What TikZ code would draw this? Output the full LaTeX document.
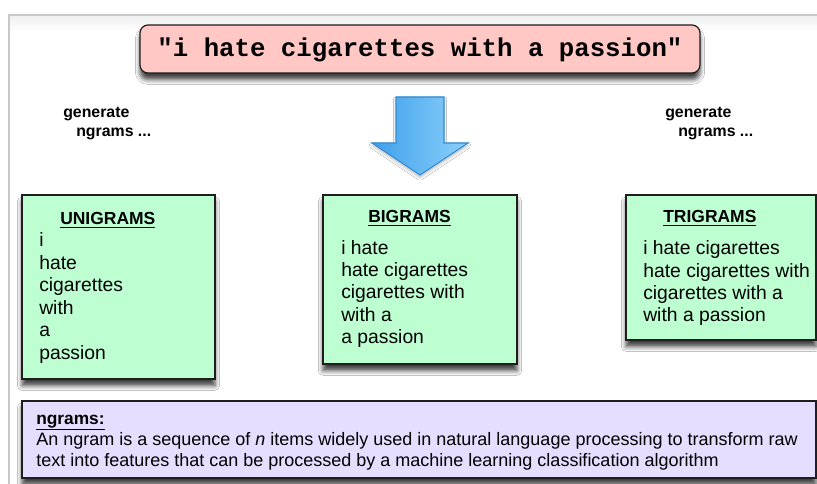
\documentclass[tikz,border=0pt]{standalone}
\usepackage{fontspec}
\setmainfont{Liberation Sans}
\setmonofont{Liberation Mono}
\usetikzlibrary{fit,shadows.blur}
\definecolor{pinkfill}{RGB}{255,200,196}
\definecolor{greenfill}{RGB}{190,255,210}
\definecolor{lavfill}{RGB}{229,222,255}
\definecolor{arrowL}{RGB}{62,160,235}
\definecolor{arrowR}{RGB}{140,208,250}
\definecolor{arrowB}{RGB}{50,140,215}
\definecolor{framegray}{RGB}{200,200,200}
\definecolor{boxline}{RGB}{30,30,30}
\begin{document}
\begin{tikzpicture}[x=0.75pt,y=-0.75pt,
  panel/.style={draw=boxline, line width=0.9pt, inner sep=0pt,
    blur shadow={shadow xshift=0pt, shadow yshift=-5pt, shadow blur radius=3.5pt, shadow opacity=75}},
  bodytext/.style={anchor=base west, inner sep=0pt, font=\fontsize{14.5}{17}\selectfont},
  headtext/.style={anchor=base west, inner sep=0pt, font=\fontsize{13.1}{15}\selectfont\bfseries},
  gentext/.style={anchor=base west, inner sep=0pt, font=\fontsize{11.9}{14}\selectfont\bfseries},
  notetext/.style={anchor=base west, inner sep=0pt, font=\fontsize{13.5}{16}\selectfont},
  notehead/.style={anchor=base west, inner sep=0pt, font=\fontsize{13}{16}\selectfont\bfseries}]
\useasboundingbox (0,0) rectangle (817,484);
\fill[white] (0,0) rectangle (817,484);
\shade[top color=black!6, bottom color=white] (9,15) rectangle (817,32);
\draw[framegray, line width=0.9pt] (9,484) -- (9,15) -- (817,15);

% title
\node[panel, fill=pinkfill, rounded corners=6pt, fit={(140,25) (700,73)}] (titlebox) {};
\node[anchor=base, inner sep=0pt, font=\ttfamily\bfseries\fontsize{19.3}{20}\selectfont] (title) at (420,57) {"i hate cigarettes with a passion"};

% arrow
\shadedraw[left color=arrowL, right color=arrowR, draw=arrowB, line width=0.8pt, line join=miter,
  blur shadow={shadow xshift=0pt, shadow yshift=-2pt, shadow blur radius=2pt, shadow opacity=25}]
  (396,97) -- (444,97) -- (444,143) -- (468,143) -- (420,175) -- (372,143) -- (396,143) -- cycle;

% generate labels
\node[gentext] (genL1) at (63,118) {generate};
\node[gentext] (genL2) at (76,137) {ngrams ...};
\node[gentext] (genR1) at (665,118) {generate};
\node[gentext] (genR2) at (678,137) {ngrams ...};

% boxes
\node[panel, fill=greenfill, fit={(22,195) (215,379)}] (uni) {};
\node[panel, fill=greenfill, fit={(323,195) (517,364)}] (bi) {};
\node[panel, fill=greenfill, fit={(626,195) (816,340)}] (tri) {};
\node[panel, fill=lavfill, fit={(22,401) (816,478)}] (notebox) {};

\node[headtext] (uniT) at (60,225) {\underline{UNIGRAMS}};
\node[headtext] (biT) at (368,223) {\underline{BIGRAMS}};
\node[headtext] (triT) at (663,223) {\underline{TRIGRAMS}};

\foreach \t [count=\i] in {i,hate,cigarettes,with,a,passion}
  \node[bodytext] (uni\i) at (39,{224.5+22.5*\i}) {\t};
\foreach \t [count=\i] in {i hate,hate cigarettes,cigarettes with,with a,a passion}
  \node[bodytext] (bi\i) at (341,{232.3+22.2*\i}) {\t};
\foreach \t [count=\i] in {i hate cigarettes,hate cigarettes with,cigarettes with a,with a passion}
  \node[bodytext] (tri\i) at (643,{232.8+22.2*\i}) {\t};

\node[notehead] (noteT) at (36,424) {\underline{ngrams:}};
\node[notetext] (note1) at (36,445) {An ngram is a sequence of \textit{n} items widely used in natural language processing to transform raw};
\node[notetext] (note2) at (36,466) {text into features that can be processed by a machine learning classification algorithm};
\end{tikzpicture}
\end{document}
